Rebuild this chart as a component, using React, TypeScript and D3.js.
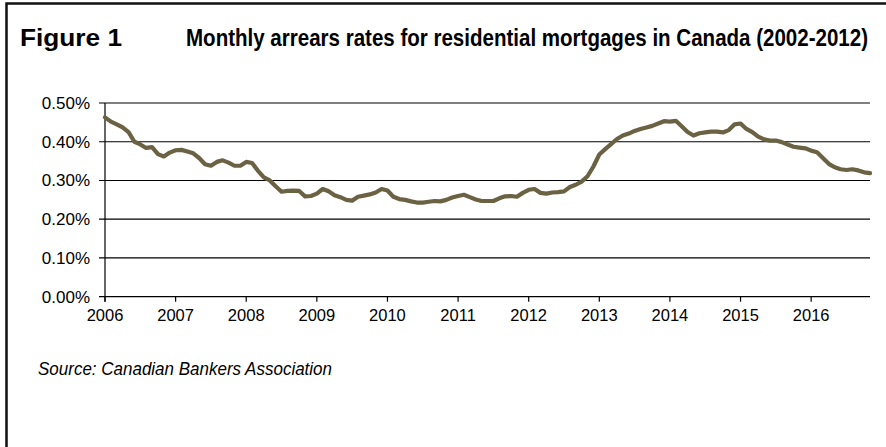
import React from "react";
import * as d3 from "d3";

const startYear = 2006;
const yearLabels = ["2006","2007","2008","2009","2010","2011","2012","2013","2014","2015","2016"];
const yTicks = [0, 0.1, 0.2, 0.3, 0.4, 0.5];

// Monthly arrears rate (%), Jan 2006 .. Nov 2016
const rates2006to2008 = [
  0.463, 0.452, 0.445, 0.437, 0.425, 0.400, 0.393, 0.384, 0.386, 0.368, 0.362, 0.372,
  0.378, 0.379, 0.375, 0.370, 0.358, 0.342, 0.338, 0.348, 0.352, 0.346, 0.338, 0.338,
  0.348, 0.345, 0.325, 0.308, 0.300, 0.285, 0.271, 0.273, 0.274, 0.273, 0.259, 0.260,
];
const rates2009to2011 = [
  0.266, 0.278, 0.272, 0.262, 0.257, 0.250, 0.248, 0.258, 0.261, 0.264, 0.269, 0.278,
  0.274, 0.258, 0.252, 0.250, 0.246, 0.243, 0.243, 0.245, 0.247, 0.246, 0.250, 0.256,
  0.260, 0.263, 0.257, 0.251, 0.247, 0.247, 0.247, 0.254, 0.259, 0.260, 0.258, 0.268,
];
const rates2012to2014 = [
  0.276, 0.278, 0.268, 0.266, 0.269, 0.270, 0.272, 0.283, 0.289, 0.297, 0.311, 0.336,
  0.367, 0.381, 0.394, 0.407, 0.416, 0.421, 0.428, 0.433, 0.437, 0.441, 0.447, 0.453,
  0.452, 0.454, 0.440, 0.425, 0.416, 0.422, 0.424, 0.426, 0.426, 0.424, 0.430, 0.445,
];
const rates2015to2016 = [
  0.447, 0.433, 0.425, 0.413, 0.406, 0.403, 0.403, 0.399, 0.393, 0.387, 0.385, 0.383,
  0.377, 0.373, 0.358, 0.343, 0.334, 0.329, 0.327, 0.329, 0.326, 0.321, 0.319,
];
const rates = [...rates2006to2008, ...rates2009to2011, ...rates2012to2014, ...rates2015to2016];

const titleLeft = "Figure 1";
const titleRight = "Monthly arrears rates for residential mortgages in Canada (2002-2012)";
const sourceText = "Source: Canadian Bankers Association";

export default function App() {
  const W = 886, H = 447;
  const x0 = 105, x1 = 870, yTop = 103, yBot = 296.7;
  const x = d3.scaleLinear().domain([0, rates.length - 1]).range([x0, x1]);
  const y = d3.scaleLinear().domain([0, 0.5]).range([yBot, yTop]);
  const line = d3.line<number>().x((_, i) => x(i)).y((d) => y(d));
  const labelFont = "'Liberation Sans', Arial, Helvetica, sans-serif";
  const narrow = "'Liberation Sans Narrow', 'Arial Narrow', 'Liberation Sans', sans-serif";

  return (
    <svg width={W} height={H} style={{ position: "absolute", left: 0, top: 0, background: "#fff" }}>
      <rect x={0} y={0} width={W} height={H} fill="#fff" />
      {/* frame */}
      <path d={`M6.5,${H + 5} V3.5 H${W + 5}`} fill="none" stroke="#111" strokeWidth={2.5} />
      {/* title */}
      <g transform="translate(20,46) scale(1,1.2)">
        <text x={0} y={0} fontFamily={narrow} fontWeight="bold" fontSize={20} textLength={102} lengthAdjust="spacingAndGlyphs" fill="#000">{titleLeft}</text>
      </g>
      <g transform="translate(186,46) scale(1,1.2)">
        <text x={0} y={0} fontFamily={narrow} fontWeight="bold" fontSize={20} textLength={682} lengthAdjust="spacingAndGlyphs" fill="#000">{titleRight}</text>
      </g>
      {/* gridlines */}
      {yTicks.map((t) => (
        <g key={t}>
          <line x1={x0 - 6} x2={x1} y1={y(t)} y2={y(t)} stroke="#000" strokeWidth={1.2} />
          <text x={90} y={y(t) + 6} textAnchor="end" fontFamily={labelFont} fontSize={17} fill="#000">{t.toFixed(2) + "%"}</text>
        </g>
      ))}
      {/* y axis */}
      <line x1={x0} x2={x0} y1={yTop} y2={yBot + 5} stroke="#000" strokeWidth={1.2} />
      {/* x ticks */}
      {yearLabels.map((lab) => {
        const i = (+lab - startYear) * 12;
        return (
          <g key={lab}>
            <line x1={x(i)} x2={x(i)} y1={yBot} y2={yBot + 5} stroke="#000" strokeWidth={1.2} />
            <text x={x(i)} y={321} textAnchor="middle" fontFamily={labelFont} fontSize={16.5} fill="#000">{lab}</text>
          </g>
        );
      })}
      {/* series */}
      <path d={line(rates) || ""} fill="none" stroke="#6b6143" strokeWidth={4.2} strokeLinejoin="round" strokeLinecap="round" />
      {/* source */}
      <text x={38} y={375} fontFamily={narrow} fontStyle="italic" fontSize={18} textLength={294} lengthAdjust="spacingAndGlyphs" fill="#000">{sourceText}</text>
    </svg>
  );
}
